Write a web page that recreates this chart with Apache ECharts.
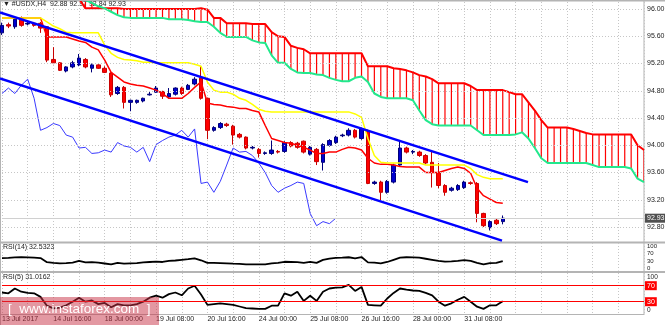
<!DOCTYPE html>
<html>
<head>
<meta charset="utf-8">
<script src="https://cdn.jsdelivr.net/npm/echarts@6/dist/echarts.min.js"></script>
<style>
html, body { margin: 0; padding: 0; background: #ffffff; }
#chart { width: 665px; height: 325px; }
</style>
</head>
<body>
<div id="chart"></div>
<script>
// USDX H4 with Ichimoku, channel lines, RSI(14) and RSI(5)

const dateTicks = ['13 Jul 2017', '14 Jul 16:00', '18 Jul 00:00', '19 Jul 08:00', '20 Jul 16:00',
  '24 Jul 00:00', '25 Jul 08:00', '26 Jul 16:00', '28 Jul 00:00', '31 Jul 08:00'];
const priceTicks = [96.00, 95.60, 95.20, 94.80, 94.40, 94.00, 93.60, 93.20, 92.80];
const rsi14Ticks = [0, 30, 70, 100];
const rsi5Ticks = [0, 100];
const rsiLevels = [70, 30];
const lastBid = 92.93;

const opens = [95.65, 95.77, 95.74, 95.87, 95.78, 95.79, 95.79, 95.74, 95.26, 95.21,
  95.09, 95.15, 95.18, 95.26, 95.13, 95.18, 95.13, 95.06, 94.76, 94.85,
  94.63, 94.63, 94.65, 94.74, 94.78, 94.79, 94.71, 94.75, 94.84, 94.82,
  94.90, 94.99, 94.69, 94.22, 94.26, 94.31, 94.28, 94.16, 94.12, 93.96,
  93.94, 93.88, 93.88, 93.91, 93.91, 94.04, 94.03, 94.06, 93.87, 93.94,
  93.75, 94.00, 94.04, 94.14, 94.15, 94.22, 94.10, 94.21, 93.44, 93.46,
  93.31, 93.46, 93.71, 93.96, 93.90, 93.90, 93.85, 93.75, 93.60, 93.41,
  93.34, 93.35, 93.38, 93.45, 93.44, 93.00, 92.79, 92.90, 92.88];
const closes = [95.76, 95.75, 95.85, 95.76, 95.79, 95.76, 95.72, 95.25, 95.21, 95.10,
  95.15, 95.21, 95.28, 95.15, 95.18, 95.13, 95.07, 94.74, 94.85, 94.63,
  94.66, 94.66, 94.69, 94.75, 94.84, 94.72, 94.76, 94.84, 94.76, 94.88,
  94.97, 94.69, 94.22, 94.26, 94.32, 94.29, 94.15, 94.12, 93.96, 93.97,
  93.88, 93.89, 93.93, 93.90, 94.04, 93.99, 93.97, 93.90, 93.97, 93.76,
  94.01, 94.07, 94.12, 94.15, 94.22, 94.12, 94.24, 93.44, 93.46, 93.31,
  93.47, 93.71, 93.96, 93.90, 93.91, 93.85, 93.74, 93.60, 93.41, 93.31,
  93.37, 93.41, 93.46, 93.44, 93.00, 92.82, 92.88, 92.85, 92.93];
const lows = [95.62, 95.72, 95.71, 95.74, 95.76, 95.74, 95.65, 95.22, 95.19, 95.09,
  95.07, 95.13, 95.16, 95.13, 95.07, 95.12, 95.06, 94.71, 94.74, 94.54,
  94.50, 94.61, 94.63, 94.73, 94.77, 94.68, 94.69, 94.73, 94.74, 94.81,
  94.88, 94.67, 94.09, 94.20, 94.24, 94.27, 94.01, 94.10, 93.94, 93.94,
  93.82, 93.86, 93.86, 93.88, 93.89, 93.97, 93.95, 93.88, 93.85, 93.71,
  93.63, 93.98, 94.02, 94.12, 94.13, 94.10, 94.08, 93.43, 93.42, 93.17,
  93.29, 93.44, 93.69, 93.88, 93.87, 93.83, 93.72, 93.38, 93.37, 93.26,
  93.32, 93.33, 93.36, 93.42, 92.87, 92.80, 92.75, 92.83, 92.84];
const highs = [95.80, 95.80, 95.88, 95.89, 95.81, 95.81, 95.81, 95.75, 95.44, 95.22,
  95.16, 95.24, 95.34, 95.28, 95.20, 95.19, 95.16, 95.07, 94.87, 94.87,
  94.67, 94.67, 94.70, 94.79, 94.87, 94.80, 94.84, 94.85, 94.86, 94.90,
  95.00, 95.16, 94.70, 94.28, 94.34, 94.33, 94.30, 94.18, 94.13, 93.99,
  93.96, 93.91, 94.07, 93.93, 94.06, 94.06, 94.05, 94.07, 93.99, 93.96,
  94.03, 94.09, 94.14, 94.17, 94.25, 94.24, 94.26, 94.23, 93.48, 93.48,
  93.49, 93.73, 94.07, 93.98, 93.93, 93.92, 93.87, 93.93, 93.74, 93.43,
  93.39, 93.43, 93.48, 93.47, 93.46, 93.01, 92.90, 92.92, 92.97];

// Ichimoku lines
const tenkan = [95.87, 95.87, 95.87, 95.87, 95.87, 95.87, 95.87,
  95.59, 95.59, 95.59, 95.59, 95.56, 95.53, 95.51, 95.44, 95.40, 95.25, 95.07, 95.00, 94.93,
  94.90, 94.88, 94.87, 94.84, 94.81, 94.76, 94.69, 94.69, 94.69, 94.76, 94.85, 94.93,
  94.62, 94.60, 94.59, 94.57, 94.56, 94.54, 94.54, 94.51, 94.49, 94.29, 94.10, 94.07,
  94.04, 94.03, 94.00, 93.97, 93.93, 93.88, 93.88, 93.90, 93.90, 93.94, 93.97, 93.96, 93.93,
  93.81, 93.74, 93.72, 93.72, 93.71, 93.69, 93.68, 93.68, 93.68, 93.60, 93.60, 93.60,
  93.63, 93.66, 93.68, 93.66, 93.59, 93.37, 93.26, 93.21, 93.16, 93.15];
const kijun = [95.87, 95.87, 95.87, 95.87, 95.87, 95.87, 95.87,
  95.81, 95.75, 95.71, 95.66, 95.65, 95.65, 95.65, 95.65, 95.65,
  95.47, 95.35, 95.29, 95.26, 95.25, 95.24, 95.22, 95.22,
  95.21, 95.21, 95.21, 95.21, 95.21, 95.21,
  95.19, 95.16, 94.93, 94.81, 94.78, 94.78, 94.75, 94.69, 94.66, 94.60, 94.53, 94.50,
  94.49, 94.49, 94.49, 94.49, 94.49, 94.49, 94.49, 94.49, 94.49, 94.49, 94.49, 94.49, 94.49,
  94.46, 94.41, 94.10, 93.85, 93.75,
  93.74, 93.74, 93.74, 93.74, 93.74, 93.74,
  93.71, 93.71, 93.71, 93.71, 93.71, 93.71, 93.71,
  93.66, 93.57, 93.53, 93.51, 93.51, 93.51];
const chikou = [94.76, 94.84, 94.76, 94.88, 94.97, 94.69, 94.22, 94.26, 94.32, 94.29,
  94.15, 94.12, 93.96, 93.97, 93.88, 93.89, 93.93, 93.90, 94.04, 93.99,
  93.97, 93.90, 93.97, 93.76, 94.01, 94.07, 94.12, 94.15, 94.22, 94.12,
  94.24, 93.44, 93.46, 93.31, 93.47, 93.71, 93.96, 93.90, 93.91, 93.85,
  93.74, 93.60, 93.41, 93.31, 93.37, 93.41, 93.46, 93.44, 93.00, 92.82,
  92.88, 92.85, 92.93];
const spanA = [96.15, 96.15, 96.15, 96.15, 96.15, 96.15, 96.15, 96.15, 96.15, 96.15, 96.15, 96.15, 96.15,
  96.01, 96.01, 96.01, 96.01, 96.01, 96.01,
  96.00, 96.00, 96.00, 96.00, 96.00, 96.00, 96.00, 96.00, 96.00, 96.00, 96.00, 96.00,
  96.01, 95.99, 95.87, 95.87, 95.79, 95.79, 95.79, 95.79, 95.78, 95.78, 95.78,
  95.66, 95.60, 95.59, 95.46, 95.43, 95.41,
  95.35, 95.35, 95.35, 95.35, 95.35, 95.35, 95.35, 95.35, 95.35,
  95.16, 95.16, 95.16, 95.16, 95.13, 95.12, 95.10, 95.07, 95.03, 95.01, 94.97,
  94.91, 94.91, 94.91, 94.91, 94.91, 94.87,
  94.81, 94.81, 94.81, 94.81, 94.81, 94.78, 94.75, 94.75, 94.63, 94.51, 94.37,
  94.26, 94.26, 94.26, 94.26, 94.24, 94.21, 94.18,
  94.16, 94.16, 94.16, 94.16, 94.16, 94.16, 94.16, 94.00, 93.93];
const spanB = [96.21, 96.21, 96.21, 96.21, 96.21, 96.21, 96.21, 96.21, 96.21, 96.21, 96.21, 96.21, 96.21,
  96.13, 96.09, 96.04, 96.01, 95.96, 95.91, 95.88,
  95.87, 95.87, 95.87, 95.87, 95.87, 95.87, 95.85, 95.85, 95.85,
  95.84, 95.82, 95.81, 95.81, 95.74, 95.65, 95.59, 95.59, 95.59, 95.59,
  95.54, 95.51, 95.50, 95.32, 95.21, 95.21, 95.12, 95.07, 95.06, 95.06, 95.04, 95.03,
  94.99, 94.96, 94.94, 94.94, 94.99, 95.01, 94.93, 94.76, 94.71,
  94.69, 94.69, 94.69, 94.69, 94.66, 94.51, 94.37, 94.31,
  94.29, 94.29, 94.29, 94.29, 94.29, 94.29, 94.22,
  94.15, 94.15, 94.15, 94.15, 94.15, 94.16, 94.19, 94.10, 93.96, 93.81,
  93.74, 93.74, 93.74, 93.74, 93.74, 93.74, 93.74, 93.71,
  93.68, 93.68, 93.68, 93.68, 93.68, 93.66, 93.51, 93.46];

// Hand-drawn channel: [bar position, price] end points
const trendUpper = [[-0.31, 95.95], [81.93, 93.46]];
const trendLower = [[-0.31, 94.98], [77.88, 92.60]];

const rsi14 = [46, 47, 49, 50, 49, 48, 46, 27, 24, 22, 23, 25, 33, 26, 27, 25, 21, 17, 24, 20,
  22, 23, 26, 28, 30, 28, 33, 35, 38, 41, 45, 36, 24, 24, 23, 22, 20, 19, 17, 17,
  17, 17, 22, 24, 29, 28, 27, 24, 29, 24, 38, 44, 47, 48, 50, 45, 51, 26, 25, 22,
  28, 38, 48, 50, 49, 48, 43, 38, 33, 30, 31, 33, 37, 33, 24, 17, 23, 24, 32.5323];
const rsi5 = [53, 51, 63, 55, 52, 51, 42, 20, 13.5, 15, 21, 30, 40, 30, 33, 24, 27, 16, 24, 21,
  21, 24, 30, 40, 45, 40, 49, 53, 46, 63, 70, 48, 22, 24, 26, 24, 22, 18, 14, 13,
  12, 12, 20, 20, 51, 45, 55, 32, 45, 32, 55, 63, 65, 66, 72, 57, 67, 22, 21, 20,
  38, 52, 63, 60, 58, 57, 52, 46, 30, 20, 26, 35, 42, 30, 17.5, 12, 21, 21, 31.0162];

const SLOTS = 101; // 79 bars plus the cloud projected ahead
const slots = Array.from({ length: SLOTS }, (_, i) => String(i));

const txt = '#222222';
const font = 'Liberation Sans, Arial, sans-serif';
const gridLine = { show: true, interval: 3, lineStyle: { color: '#c6c6c6', type: [1, 2], width: 1 } };

function catAxis(gridIndex, withLabels) {
  return {
    type: 'category', gridIndex, data: slots, boundaryGap: false,
    axisLine: { show: false }, axisTick: { show: false },
    splitLine: gridLine,
    axisLabel: withLabels ? {
      show: true, interval: 7, align: 'left', margin: 2, fontSize: 7, color: txt, fontFamily: font,
      formatter: (v, idx) => { const k = idx / 8; return (k < dateTicks.length) ? dateTicks[k] : ''; }
    } : { show: false }
  };
}

const option = {
  animation: false,
  backgroundColor: '#ffffff',
  grid: [
    { left: 2, right: 21, top: 2, height: 239.5, outerBoundsMode: 'none' },
    { left: 2, right: 21, top: 243, height: 27.5, outerBoundsMode: 'none' },
    { left: 2, right: 21, top: 273, height: 41, outerBoundsMode: 'none' }
  ],
  xAxis: [
    catAxis(0, false),
    catAxis(1, false),
    catAxis(2, true),
    { type: 'value', gridIndex: 0, min: 0, max: SLOTS - 1, show: false }
  ],
  yAxis: [
    {
      type: 'value', gridIndex: 0, position: 'right', min: 92.588, max: 96.103, scale: true,
      axisLine: { show: false }, axisTick: { show: false }, splitLine: { show: false },
      axisLabel: { customValues: priceTicks, hideOverlap: false, formatter: v => v.toFixed(2), fontSize: 7, color: txt, margin: 3, fontFamily: font }
    },
    {
      type: 'value', gridIndex: 1, position: 'right', min: -11.6, max: 116.3,
      axisLine: { show: false }, axisTick: { show: false }, splitLine: { show: false },
      axisLabel: { customValues: rsi14Ticks, hideOverlap: false, fontSize: 6, color: txt, margin: 3, fontFamily: font }
    },
    {
      type: 'value', gridIndex: 2, position: 'right', min: -0.75, max: 101.75,
      axisLine: { show: false }, axisTick: { show: false }, splitLine: { show: false },
      axisLabel: {
        customValues: rsi5Ticks, hideOverlap: false, margin: 3, color: txt,
        formatter: v => v >= 100 ? '{t|100}' : '{b|0}',
        rich: {
          t: { fontSize: 6.5, color: txt, fontFamily: font, padding: [7, 0, 0, 0] },
          b: { fontSize: 6.5, color: txt, fontFamily: font, padding: [0, 0, 6, 0] }
        }
      }
    }
  ],
  series: [
    {
      // cloud hatching between the two senkou spans
      name: 'kumo', type: 'custom', xAxisIndex: 0, yAxisIndex: 0, clip: true, z: 1, silent: true,
      data: spanA.map((a, i) => [i, a, spanB[i]]),
      encode: { x: 0, y: [1, 2] },
      renderItem: (params, api) => {
        const p1 = api.coord([api.value(0), api.value(1)]);
        const p2 = api.coord([api.value(0), api.value(2)]);
        return { type: 'line', shape: { x1: p1[0], y1: p1[1], x2: p2[0], y2: p2[1] },
          style: { stroke: '#ff0000', lineWidth: 1.2 } };
      },
      markLine: {
        silent: true, symbol: 'none', label: { show: false },
        lineStyle: { color: '#c6c6c6', type: [1, 2], width: 1 },
        data: priceTicks.map(p => ({ yAxis: p }))
      }
    },
    { name: 'Senkou A', type: 'line', xAxisIndex: 0, yAxisIndex: 0, data: spanA, symbol: 'none', z: 2,
      lineStyle: { color: '#ff0000', width: 2 } },
    { name: 'Senkou B', type: 'line', xAxisIndex: 0, yAxisIndex: 0, data: spanB, symbol: 'none', z: 2,
      lineStyle: { color: '#22e88c', width: 2 } },
    {
      name: 'USDX', type: 'candlestick', xAxisIndex: 0, yAxisIndex: 0, z: 3, clip: false, barWidth: 4,
      data: opens.map((o, i) => [o, closes[i], lows[i], highs[i]]),
      itemStyle: { color: '#0000d0', color0: '#ff0000', borderColor: '#00007a', borderColor0: '#c80000', borderWidth: 1 },
      markLine: {
        silent: true, symbol: 'none',
        lineStyle: { color: '#d0d0d0', type: 'solid', width: 1 },
        label: { show: true, position: 'end', distance: 1, formatter: lastBid.toFixed(2), fontSize: 7, fontFamily: font,
          color: '#ffffff', backgroundColor: '#505050', padding: [1, 2, 1, 2] },
        data: [{ yAxis: lastBid }]
      }
    },
    { name: 'Tenkan', type: 'line', xAxisIndex: 0, yAxisIndex: 0, data: tenkan, symbol: 'none', z: 4,
      lineStyle: { color: '#ff0000', width: 1.5 } },
    { name: 'Kijun', type: 'line', xAxisIndex: 0, yAxisIndex: 0, data: kijun, symbol: 'none', z: 4,
      lineStyle: { color: '#ffff00', width: 1.5 } },
    { name: 'Chikou', type: 'line', xAxisIndex: 0, yAxisIndex: 0, data: chikou, symbol: 'none', z: 4,
      lineStyle: { color: '#3a3aff', width: 1 } },
    { name: 'Channel top', type: 'line', xAxisIndex: 3, yAxisIndex: 0, data: trendUpper, symbol: 'none', z: 5, clip: false,
      lineStyle: { color: '#0000ff', width: 2.5 } },
    { name: 'Channel bottom', type: 'line', xAxisIndex: 3, yAxisIndex: 0, data: trendLower, symbol: 'none', z: 5, clip: false,
      lineStyle: { color: '#0000ff', width: 2.5 } },
    { name: 'RSI(14)', type: 'line', xAxisIndex: 1, yAxisIndex: 1, data: rsi14, symbol: 'none',
      lineStyle: { color: '#000000', width: 1.8 } },
    {
      name: 'RSI(5)', type: 'line', xAxisIndex: 2, yAxisIndex: 2, data: rsi5, symbol: 'none', z: 3,
      lineStyle: { color: '#000000', width: 1.8 },
      markLine: {
        silent: true, symbol: 'none',
        lineStyle: { color: '#ff0000', type: 'solid', width: 1 },
        label: { show: true, position: 'end', distance: 1, fontSize: 7, fontFamily: font,
          color: '#ffffff', backgroundColor: '#ff0000', padding: [1, 2, 1, 2], formatter: p => String(p.value) },
        data: rsiLevels.map(v => ({ yAxis: v }))
      }
    }
  ],
  graphic: [
    // panel frame and separators
    { type: 'rect', shape: { x: 0, y: 0, width: 665, height: 1.5 }, style: { fill: '#b4b4b4' }, silent: true },
    { type: 'rect', shape: { x: 0, y: 0, width: 1, height: 325 }, style: { fill: '#b4b4b4' }, silent: true },
    { type: 'rect', shape: { x: 0, y: 241.5, width: 665, height: 2 }, style: { fill: '#b4b4b4' }, silent: true },
    { type: 'rect', shape: { x: 0, y: 271, width: 665, height: 2 }, style: { fill: '#b4b4b4' }, silent: true },
    { type: 'rect', shape: { x: 0, y: 314, width: 644, height: 1 }, style: { fill: '#b4b4b4' }, silent: true },
    { type: 'rect', shape: { x: 643.5, y: 0, width: 1, height: 315 }, style: { fill: '#b4b4b4' }, silent: true },
    // symbol header and indicator captions
    { type: 'text', left: 3, top: 1, silent: true,
      style: { text: '\u25BC #USDX,H4  92.88 92.97 92.84 92.93', fill: '#222222', fontSize: 7, fontFamily: font } },
    { type: 'text', left: 3, top: 244, silent: true,
      style: { text: 'RSI(14) 32.5323', fill: '#222222', fontSize: 7, fontFamily: font } },
    { type: 'text', left: 3, top: 274, silent: true,
      style: { text: 'RSI(5) 31.0162', fill: '#222222', fontSize: 7, fontFamily: font } },
    // broker watermark
    { type: 'rect', shape: { x: 0, y: 297, width: 159, height: 28 }, style: { fill: 'rgba(200,50,70,0.5)' }, silent: true, z: 20 },
    { type: 'text', left: 8, top: 302, silent: true, z: 21,
      style: { text: '[  www.instaforex.com  ]', fill: '#ffffff', fontSize: 13.5, fontFamily: font } }
  ]
};

const chart = echarts.init(document.getElementById('chart'));
chart.setOption(option);
</script>
</body>
</html>
